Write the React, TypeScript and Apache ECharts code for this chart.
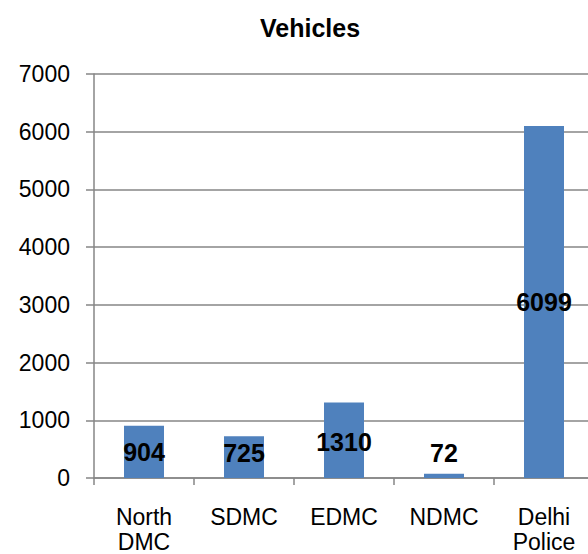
import React, { useEffect, useRef } from "react";
import * as echarts from "echarts";

const categories = ["North\nDMC", "SDMC", "EDMC", "NDMC", "Delhi\nPolice"];
const vehicles = [904, 725, 1310, 72, 6099];
const labelOffsets = [[0, 0], [0, -4], [0, 2], [0, -23], [0, 0]];
const yTicks = { min: 0, max: 7000, interval: 1000 };

const FONT = "'Liberation Sans', Arial, sans-serif";

export default function App() {
  const ref = useRef<HTMLDivElement>(null);
  useEffect(() => {
    document.body.style.margin = "0";
    document.body.style.overflow = "hidden";
    if (!ref.current) return;
    const chart = echarts.init(ref.current, null, { renderer: "svg" });
    chart.setOption({
      animation: false,
      backgroundColor: "#ffffff",
      textStyle: { fontFamily: FONT },
      title: {
        text: "Vehicles",
        left: 305,
        top: 10,
        textAlign: "center",
        textStyle: { fontFamily: FONT, fontWeight: "bold", fontSize: 25, color: "#000" },
      },
      grid: { left: 94, right: 6, top: 74, bottom: 74, containLabel: false },
      xAxis: {
        type: "category",
        data: categories,
        axisLine: { lineStyle: { color: "#868686", width: 1.5 } },
        axisTick: { show: true, length: 7, lineStyle: { color: "#868686", width: 1.5 } },
        axisLabel: {
          interval: 0,
          margin: 26,
          color: "#000",
          fontFamily: FONT,
          fontSize: 23,
          lineHeight: 25,
        },
      },
      yAxis: {
        type: "value",
        min: yTicks.min,
        max: yTicks.max,
        interval: yTicks.interval,
        axisLine: { show: true, lineStyle: { color: "#868686", width: 1.5 } },
        axisTick: { show: true, length: 8, lineStyle: { color: "#868686", width: 1.5 } },
        splitLine: { show: true, lineStyle: { color: "#868686", width: 1.5 } },
        axisLabel: {
          color: "#000",
          fontFamily: FONT,
          fontSize: 23,
          margin: 24,
          formatter: (v: number) => String(v),
        },
      },
      series: [
        {
          type: "bar",
          barWidth: 40,
          itemStyle: { color: "#4F81BD" },
          data: vehicles.map((v, i) => ({
            value: v,
            label: { offset: labelOffsets[i] },
          })),
          label: {
            show: true,
            position: "inside",
            color: "#000",
            fontFamily: FONT,
            fontWeight: "bold",
            fontSize: 25,
          },
        },
      ],
    });
    return () => chart.dispose();
  }, []);
  return (
    <div style={{ width: 588, height: 554, overflow: "hidden" }}>
      <div ref={ref} style={{ width: 600, height: 554 }} />
    </div>
  );
}
